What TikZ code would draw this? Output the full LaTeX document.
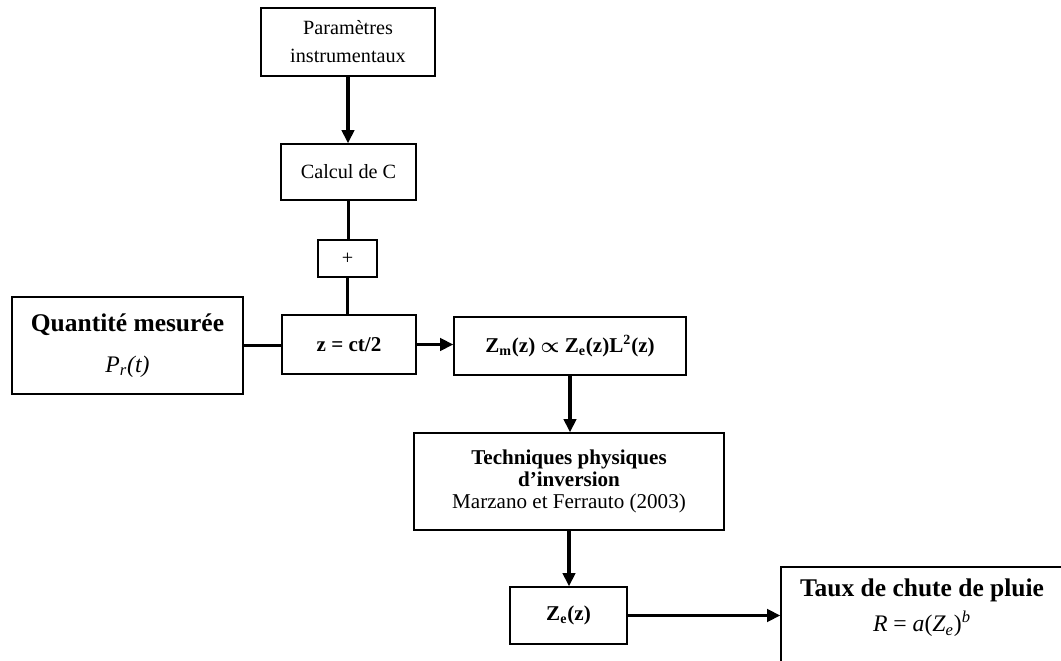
\documentclass[tikz,border=0pt]{standalone}
\usepackage{amsmath}
\usepackage{fontspec}
\setmainfont{Liberation Serif}
\usetikzlibrary{arrows.meta,positioning,calc}

\begin{document}
\begin{tikzpicture}[
    x=0.02cm, y=-0.02cm,
    font=\fontsize{11.5}{14}\selectfont,
    arrow/.style={-{Triangle[length=7.5pt, width=7pt]}, line width=1.9pt},
    link/.style={line width=1.9pt},
    stepbox/.style={draw, line width=0.8pt, align=center, inner sep=2pt}
]
\useasboundingbox (0,0) rectangle (1061,661);

\node[stepbox, minimum width=3.48cm, minimum height=1.36cm, font=\fontsize{11.5}{16}\selectfont] (params) at (348,42)
{Paramètres\\instrumentaux};
\node[stepbox, minimum width=2.70cm, minimum height=1.12cm] (calcC) at (348.5,172) {Calcul de C};
\node[stepbox, minimum width=1.18cm, minimum height=0.74cm] (plus) at (347.5,258.5) {+};

\node[stepbox, minimum width=4.62cm, minimum height=1.94cm] (quantite) at (127.5,345.5)
{{\fontsize{14.5}{16}\selectfont\bfseries Quantité mesurée}\\[9pt]{\fontsize{13.5}{15}\selectfont\textit{P\textsubscript{r}(t)}}};
\node[stepbox, minimum width=2.68cm, minimum height=1.18cm, font=\fontsize{12}{14}\selectfont\bfseries] (zct) at (349,344.5) {z = ct/2};
\node[stepbox, minimum width=4.64cm, minimum height=1.16cm, font=\fontsize{12}{14}\selectfont\bfseries] (zm) at (570,346)
{Z\textsubscript{m}(z) $\boldsymbol{\propto}$ Z\textsubscript{e}(z)L\textsuperscript{2}(z)};

\node[stepbox, minimum width=6.20cm, minimum height=1.94cm, font=\fontsize{12}{12.5}\selectfont] (inversion) at (569,481.5)
{\textbf{Techniques physiques}\\\textbf{d'inversion}\\Marzano et Ferrauto (2003)};
\node[stepbox, minimum width=2.34cm, minimum height=1.14cm, font=\fontsize{12}{14}\selectfont\bfseries] (ze) at (568.5,615.5) {Z\textsubscript{e}(z)};
\node[stepbox, minimum width=5.64cm, minimum height=1.96cm] (pluie) at (922,616)
{{\fontsize{14.5}{16}\selectfont\bfseries Taux de chute de pluie}\\[4pt]{\fontsize{13.5}{15}\selectfont\textit{R} = \textit{a}(\textit{Z\textsubscript{e}})\textsuperscript{\textit{b}}}\\[-2pt]};

\draw[arrow] (params.south) -- (params.south |- calcC.north);
\draw[link] (calcC.south) -- (calcC.south |- plus.north);
\draw[link] (plus.south) -- (plus.south |- zct.north);
\draw[link] (quantite.east) -- (quantite.east -| zct.west);
\draw[arrow] (zct.east) -- (zct.east -| zm.west);
\draw[arrow] (zm.south) -- (zm.south |- inversion.north);
\draw[arrow] (inversion.south) -- (inversion.south |- ze.north);
\draw[arrow] (ze.east) -- (ze.east -| pluie.west);

\end{tikzpicture}
\end{document}
